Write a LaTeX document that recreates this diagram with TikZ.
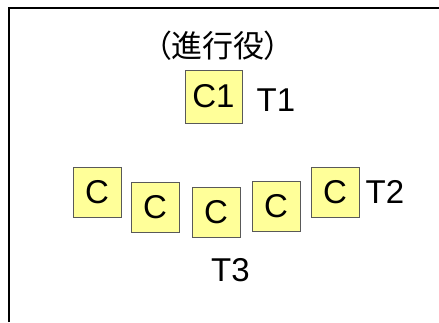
\documentclass[tikz,border=0pt]{standalone}
\usepackage{fontspec}
\setmainfont{Liberation Sans}
\newfontfamily\cjk[RawFeature=+palt]{Noto Sans CJK JP}
\definecolor{boxfill}{HTML}{FFFF99}
\begin{document}
\begin{tikzpicture}[x=1pt,y=-1pt,
  cbox/.style={draw=black!65, line width=0.9pt, fill=boxfill, inner sep=0pt,
    minimum width=48pt, minimum height=50pt, font=\fontsize{33}{33}\selectfont},
  lbl/.style={inner sep=0pt, font=\fontsize{33}{33}\selectfont}]
\useasboundingbox (0,0) rectangle (439,322);
\coordinate (fl) at (8.5,322);
\coordinate (ftl) at (8.5,7.5);
\coordinate (fr) at (439,7.5);
\draw[line width=2pt] (fl) -- (ftl) -- (fr);
\node[inner sep=0pt, font=\cjk\fontsize{31}{31}\selectfont] (title) at (218,46) {（進行役）};
\node[cbox, minimum width=57pt, minimum height=53pt] (c1) at (213.5,96.5) {C1};
\node[lbl] (t1) at (276,100.5) {T1};
\node[cbox] (b1) at (97,192) {C};
\node[cbox] (b2) at (155,207.5) {C};
\node[cbox] (b3) at (216,212.5) {C};
\node[cbox] (b4) at (276,206.5) {C};
\node[cbox] (b5) at (335,192) {C};
\node[lbl] (t2) at (385,191.5) {T2};
\node[lbl] (t3) at (230.5,270) {T3};
\end{tikzpicture}
\end{document}
